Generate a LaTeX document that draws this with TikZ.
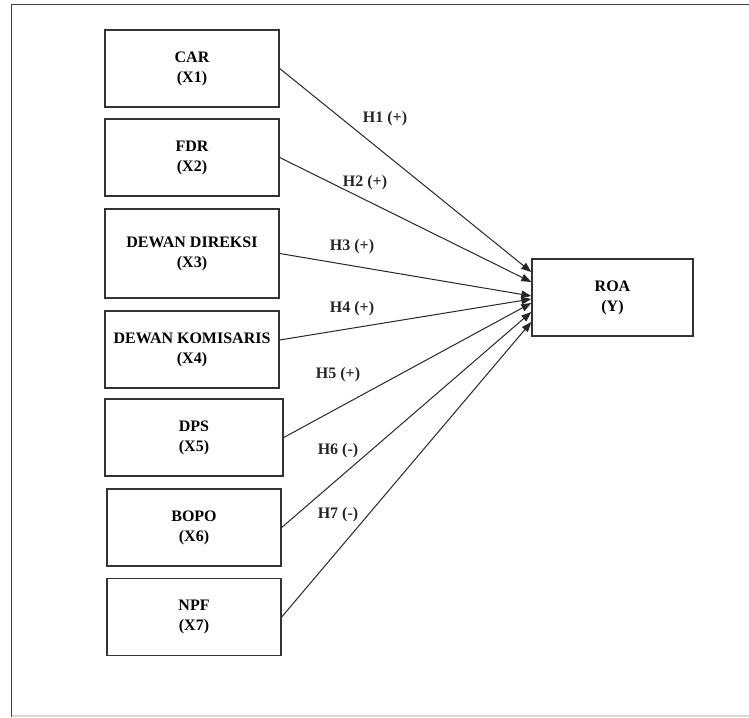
\documentclass[tikz,border=0pt]{standalone}
\usepackage{fontspec}
\setmainfont{Liberation Serif}
\usetikzlibrary{arrows.meta}
\tikzset{
  var box/.style={
    rectangle,
    draw=black!80,
    line width=1.4pt,
    minimum width=174pt,
    minimum height=77pt,
    align=center,
    font=\fontsize{16}{20}\selectfont\bfseries,
    inner sep=2pt,
  },
  hyp label/.style={
    font=\fontsize{16}{20}\selectfont\bfseries,
    text=black!85,
    inner sep=1pt,
  },
  hyp arrow/.style={-{Triangle[length=10pt,width=7.5pt]}, line width=1pt, draw=black!85},
}

\begin{document}
\begin{tikzpicture}[x=1pt,y=-1pt]
  \useasboundingbox (0,0) rectangle (749,717);
  % frame
  \draw[black!15, line width=1.2pt] (11.5,716) -- (749,716);
  \draw[black!75, line width=1.8pt] (749,4.5) -- (11.5,4.5) -- (11.5,717);

  % independent variables
  \node[var box] (car) at (192,68.5) {CAR\\(X1)};
  \node[var box] (fdr) at (192,157.5) {FDR\\(X2)};
  \node[var box, minimum height=89pt] (direksi) at (192,253.5) {DEWAN DIREKSI\\(X3)};
  \node[var box] (komisaris) at (192,349.5) {DEWAN KOMISARIS\\(X4)};
  \node[var box, minimum width=178pt] (dps) at (194,437.5) {DPS\\(X5)};
  \node[var box] (bopo) at (194,527.5) {BOPO\\(X6)};
  \node[var box] (npf) at (194,617) {NPF\\(X7)};

  % dependent variable
  \node[var box, minimum width=161pt] (roa) at (612.5,297.5) {ROA\\(Y)};

  % hypotheses
  \draw[hyp arrow] (car.east) -- ([yshift=25.5pt]roa.west);
  \draw[hyp arrow] (fdr.east) -- ([yshift=15.5pt]roa.west);
  \draw[hyp arrow] (direksi.east) -- ([yshift=1.5pt]roa.west);
  \draw[hyp arrow] ([yshift=9.5pt]komisaris.east) -- ([yshift=-1.5pt]roa.west);
  \draw[hyp arrow] (dps.east) -- ([yshift=-5.5pt]roa.west);
  \draw[hyp arrow] (bopo.east) -- ([yshift=-14.5pt]roa.west);
  \draw[hyp arrow] (npf.east) -- ([yshift=-24.5pt]roa.west);

  \node[hyp label] (h1) at (385,119) {H1 (+)};
  \node[hyp label] (h2) at (365,183) {H2 (+)};
  \node[hyp label] (h3) at (352,247) {H3 (+)};
  \node[hyp label] (h4) at (352,309) {H4 (+)};
  \node[hyp label] (h5) at (338,375) {H5 (+)};
  \node[hyp label] (h6) at (338,451) {H6 (-)};
  \node[hyp label] (h7) at (338,515) {H7 (-)};
\end{tikzpicture}
\end{document}
